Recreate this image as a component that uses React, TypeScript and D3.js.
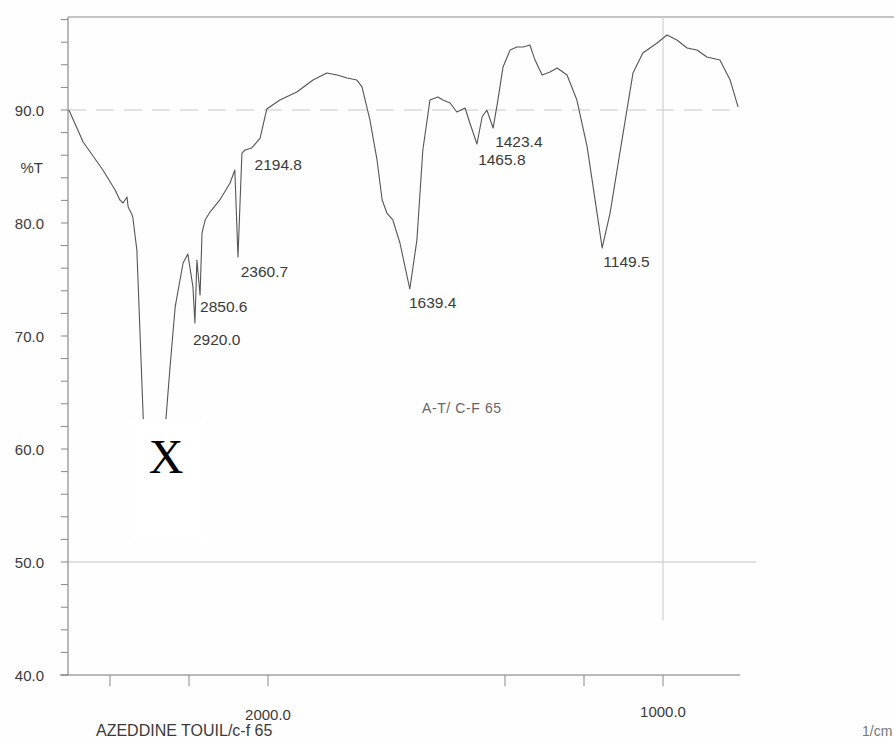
import React from "react";
import * as d3 from "d3";

// Wavenumber (cm-1) and %T of the traced spectrum
const wavenumbers = [
  2504, 2468, 2418, 2387, 2375, 2367, 2357, 2354, 2344, 2342, 2332, 2324, 2316,
  2306, 2289, 2273, 2258, 2248, 2235, 2215, 2203, 2190, 2185, 2180, 2172, 2167,
  2159, 2147, 2122, 2096, 2084, 2076, 2066, 2058, 2041, 2020, 2003, 1970, 1927,
  1886, 1851, 1825, 1800, 1775, 1762, 1742, 1724, 1711, 1699, 1684, 1666, 1641,
  1623, 1608, 1590, 1570, 1557, 1539, 1522, 1501, 1489, 1471, 1458, 1446, 1430,
  1418, 1405, 1387, 1370, 1354, 1337, 1324, 1306, 1286, 1268, 1243, 1218, 1192,
  1167, 1154, 1134, 1101, 1076, 1051, 1015, 990, 965, 939, 914, 889, 856, 830, 810,
];
const transmittance = [
  90.0, 87.17, 84.69, 82.92, 82.04, 81.77, 82.3, 81.42, 80.71, 80.44, 77.61, 70.27, 62.83,
  55.5, 53.3, 55.5, 62.83, 67.26, 72.57, 76.46, 77.26, 74.34, 71.15, 76.73, 73.63, 79.12,
  80.27, 80.97, 82.04, 83.54, 84.69, 76.99, 86.19, 86.46, 86.64, 87.52, 90.09, 90.88, 91.59,
  92.65, 93.27, 93.1, 92.83, 92.65, 92.04, 89.12, 85.58, 82.04, 80.88, 80.27, 78.23, 74.16,
  78.5, 86.46, 90.88, 91.15, 90.88, 90.62, 89.82, 90.18, 88.85, 86.99, 89.38, 90.0, 88.41,
  90.88, 93.81, 95.31, 95.58, 95.58, 95.75, 94.42, 93.1, 93.36, 93.72, 93.1, 90.88, 86.73,
  80.88, 77.79, 80.88, 87.96, 93.27, 95.04, 95.93, 96.64, 96.19, 95.49, 95.31, 94.69, 94.42, 92.65, 90.27,
];

// Peak annotations: label text, and anchor in data units (wavenumber, %T)
const peakLabels = ["2194.8", "2360.7", "2850.6", "2920.0", "1639.4", "1423.4", "1465.8", "1149.5"];
const peakLabelWn = [2034, 2069, 2172, 2190, 1643, 1425, 1468, 1151];
const peakLabelT = [84.7, 75.2, 72.1, 69.2, 72.5, 86.75, 85.15, 76.1];

const yTicksMajor = [40, 50, 60, 70, 80, 90];
const yTicksMinor = d3.range(40, 98.1, 2);
const xTicks = [2400, 2200, 2000, 1400, 1200, 1000];
const xTickLabels = [2000, 1000];

const W = 894;
const H = 738;

export default function App() {
  const x = d3.scaleLinear().domain([2000, 1000]).range([268, 663]);
  const y = d3.scaleLinear().domain([40, 90]).range([675, 110]);
  const axisX = 68;
  const topY = 17;
  const rightX = 740;

  const data = wavenumbers.map((w, i) => ({ w, t: transmittance[i] }));
  const line = d3
    .line<{ w: number; t: number }>()
    .x((d) => x(d.w))
    .y((d) => y(d.t))
    .curve(d3.curveLinear);

  const font = "'Liberation Sans', Arial, Helvetica, sans-serif";
  const txt = "#3a3a3a";

  return (
    <div style={{ position: "absolute", left: 0, top: 0, width: W, height: H, background: "#fff" }}>
      <svg width={W} height={H} style={{ display: "block" }}>
        <rect x={0} y={0} width={W} height={H} fill="#fefefe" />
        {/* top border */}
        <line x1={axisX} x2={W} y1={topY} y2={topY} stroke="#8a8a8a" strokeWidth={1} />
        {/* grid lines */}
        <line x1={axisX} x2={rightX} y1={y(90)} y2={y(90)} stroke="#c8c8c8" strokeWidth={1} strokeDasharray="18 10" />
        <line x1={axisX} x2={756} y1={y(50)} y2={y(50)} stroke="#c4c4c4" strokeWidth={1} />
        <line x1={x(1000)} x2={x(1000)} y1={topY} y2={620} stroke="#c8c8c8" strokeWidth={1} />
        {/* y axis */}
        <line x1={axisX} x2={axisX} y1={topY} y2={y(40)} stroke="#777" strokeWidth={1} />
        {yTicksMinor.map((t) => (
          <line key={"m" + t} x1={axisX - 7} x2={axisX} y1={y(t)} y2={y(t)} stroke="#888" strokeWidth={1} />
        ))}
        {yTicksMajor.map((t) => (
          <text key={"l" + t} x={44} y={y(t) + 6} textAnchor="end" fontFamily={font} fontSize={15} fill={txt}>
            {t.toFixed(1)}
          </text>
        ))}
        <text x={43} y={173} textAnchor="end" fontFamily={font} fontSize={15} fill={txt}>
          %T
        </text>
        {/* x axis */}
        <line x1={60} x2={rightX} y1={y(40)} y2={y(40)} stroke="#777" strokeWidth={1} />
        {xTicks.map((w) => (
          <line key={"xt" + w} x1={x(w)} x2={x(w)} y1={y(40)} y2={y(40) + 11} stroke="#888" strokeWidth={1} />
        ))}
        {xTickLabels.map((w) => (
          <text key={"xl" + w} x={x(w)} y={w === 2000 ? 720 : 717} textAnchor="middle" fontFamily={font} fontSize={15} fill={txt}>
            {w.toFixed(1)}
          </text>
        ))}
        {/* spectrum */}
        <path d={line(data) || ""} fill="none" stroke="#555" strokeWidth={1.1} strokeLinejoin="round" />
        {/* peak labels */}
        {peakLabels.map((lab, i) => (
          <text key={lab} x={x(peakLabelWn[i])} y={y(peakLabelT[i])} fontFamily={font} fontSize={15.5} fill={txt}>
            {lab}
          </text>
        ))}
        <text x={422} y={413} fontFamily={font} fontSize={14} fill="#666" letterSpacing={0.6}>
          A-T/ C-F 65
        </text>
        <text x={96} y={736} fontFamily={font} fontSize={16} fill={txt}>
          AZEDDINE TOUIL/c-f 65
        </text>
        <text x={862} y={736} fontFamily={font} fontSize={14} fill="#777">
          1/cm
        </text>
        {/* masking box */}
        <rect x={130} y={419} width={77} height={123} fill="#fff" />
        <text x={166} y={473} textAnchor="middle" fontFamily="'Liberation Serif', 'Times New Roman', serif" fontSize={48} fill="#000">
          X
        </text>
      </svg>
    </div>
  );
}
